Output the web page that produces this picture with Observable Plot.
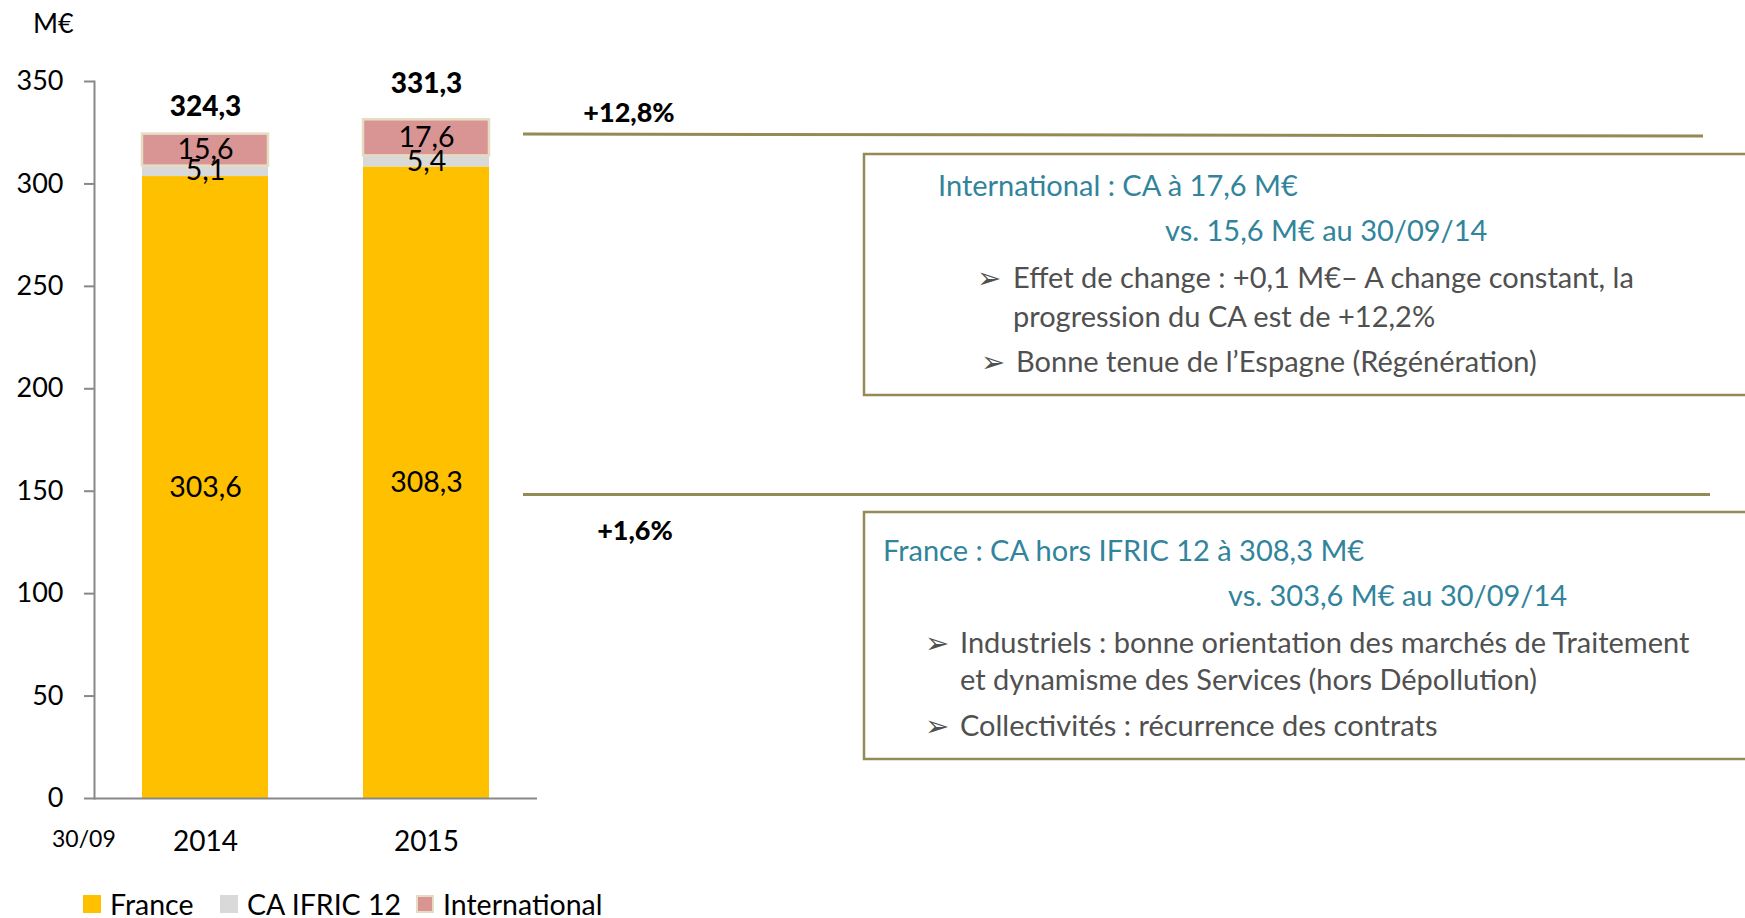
<!DOCTYPE html>
<html><head><meta charset="utf-8">
<script src="https://cdn.jsdelivr.net/npm/d3@7"></script>
<script src="https://cdn.jsdelivr.net/npm/@observablehq/plot@0.6"></script>
<style>
html,body{margin:0;padding:0;background:#fff;}
#wrap{position:relative;width:1745px;height:918px;overflow:hidden;background:#fff;font-family:Lato,"Open Sans",sans-serif;}
#chart{position:absolute;left:0;top:0;}
.t{position:absolute;white-space:nowrap;line-height:1;}
#overlay{position:absolute;left:0;top:0;}
.leg{position:absolute;display:flex;align-items:center;font-size:28.5px;color:#000;white-space:nowrap;}
.sw{display:inline-block;width:18px;height:18px;margin-right:9px;box-sizing:border-box;}
</style></head>
<body><div id="wrap"></div>
<script>
// ---- data ----
const years = ["2014", "2015"];
const seriesNames = ["France", "CA IFRIC 12", "International"];
const france = [303.6, 308.3];
const ifric = [5.1, 5.4];
const international = [15.6, 17.6];
const totals = [324.3, 331.3];
const yTicks = [0, 50, 100, 150, 200, 250, 300, 350];
const seriesColors = ["#ffc000", "#d9d9d9", "#d99594"];
const growthLabels = ["+12,8%", "+1,6%"];

const fmt = v => v.toFixed(1).replace(".", ",");
const valuesBySeries = [france, ifric, international];
const rows = [];
years.forEach((yr, i) => seriesNames.forEach((s, j) => rows.push({year: yr, series: s, value: valuesBySeries[j][i]})));
const totalRows = years.map((yr, i) => ({year: yr, total: totals[i]}));

const wrap = document.getElementById("wrap");

const chart = Plot.plot({
  width: 560, height: 860,
  marginLeft: 94, marginRight: 23, marginTop: 81, marginBottom: 62,
  style: {fontFamily: "Lato, 'Open Sans', sans-serif", fontSize: "27px", color: "#000", background: "transparent", overflow: "visible"},
  x: {domain: years, paddingInner: 0.43, paddingOuter: 0.215, label: null, axis: null},
  y: {domain: [0, 350], label: null, axis: null},
  color: {domain: seriesNames, range: seriesColors},
  marks: [
    Plot.barY(rows, {x: "year", y: "value", fill: "series"}),
    Plot.barY(rows, {x: "year", y: "value", fill: "none", stroke: "#e6dcc2", strokeWidth: 2.5,
      strokeOpacity: d => d.series === "International" ? 1 : 0}),
    Plot.text(rows, Plot.stackY({x: "year", y: "value", text: d => fmt(d.value), fill: "#000", fontSize: 28.5})),
    Plot.text(totalRows.filter(d => d.year === "2014"), {x: "year", y: "total", text: d => fmt(d.total), dy: -27, fontWeight: 900, fontSize: 28, fill: "#000"}),
    Plot.text(totalRows.filter(d => d.year === "2015"), {x: "year", y: "total", text: d => fmt(d.total), dy: -36, fontWeight: 900, fontSize: 28, fill: "#000"}),
    Plot.axisY({ticks: yTicks, tickSize: 10, tickPadding: 21, label: null, stroke: "#888", strokeWidth: 2, fill: "#000", fontSize: 27}),
    Plot.axisX({tickSize: 0, tickPadding: 33, label: null, fill: "#000", fontSize: 28}),
    Plot.frame({anchor: "left", stroke: "#888", strokeWidth: 2}),
    Plot.ruleY([0], {stroke: "#888", strokeWidth: 2})
  ]
});
chart.id = "chart";
wrap.appendChild(chart);

// annotation overlay (lines and boxes)
const ns = "http://www.w3.org/2000/svg";
const ov = document.createElementNS(ns, "svg");
ov.setAttribute("id", "overlay");
ov.setAttribute("width", 1745); ov.setAttribute("height", 918);
ov.innerHTML = `
  <line x1="523" y1="134" x2="1703" y2="136" stroke="#948a54" stroke-width="3"/>
  <line x1="523" y1="494.5" x2="1710" y2="494.5" stroke="#948a54" stroke-width="3"/>
  <rect x="864" y="154" width="1000" height="241" fill="none" stroke="#948a54" stroke-width="2.5"/>
  <rect x="864" y="512" width="1000" height="247" fill="none" stroke="#948a54" stroke-width="2.5"/>`;
wrap.appendChild(ov);

function addText(txt, x, cy, size, color, weight, anchor) {
  const d = document.createElement("div");
  d.className = "t";
  d.textContent = txt;
  d.style.fontSize = size + "px";
  d.style.color = color;
  d.style.fontWeight = weight || "normal";
  d.style.top = (cy - size / 2) + "px";
  if (anchor === "middle") { d.style.left = x + "px"; d.style.transform = "translateX(-50%)"; }
  else d.style.left = x + "px";
  wrap.appendChild(d);
  return d;
}
addText("M€", 33, 22, 27, "#000");
addText("30/09", 52, 838, 23, "#000");
addText(growthLabels[0], 629, 111, 27, "#000", 900, "middle");
addText(growthLabels[1], 635, 529, 27, "#000", 900, "middle");

const teal = "#31849b", grey = "#505050";
const fs = 29, bs = 29;
addText("International : CA à 17,6 M€", 938, 184, fs, teal);
addText("vs. 15,6 M€ au 30/09/14", 1165, 229, fs, teal);
addText("➢", 977, 276, bs, grey);
addText("Effet de change : +0,1 M€– A change constant, la", 1013, 276, fs, grey);
addText("progression du CA est de +12,2%", 1013, 315, fs, grey);
addText("➢", 981, 360, bs, grey);
addText("Bonne tenue de l’Espagne (Régénération)", 1016, 360, fs, grey);

addText("France : CA hors IFRIC 12 à 308,3 M€", 883, 549, fs, teal);
addText("vs. 303,6 M€ au 30/09/14", 1228, 594, fs, teal);
addText("➢", 925, 641, bs, grey);
addText("Industriels : bonne orientation des marchés de Traitement", 960, 641, fs, grey);
addText("et dynamisme des Services (hors Dépollution)", 960, 678, fs, grey);
addText("➢", 925, 724, bs, grey);
addText("Collectivités : récurrence des contrats", 960, 724, fs, grey);

// legend
const legX = [83, 220, 416];
seriesNames.forEach((s, i) => {
  const item = document.createElement("div");
  item.className = "leg";
  item.style.left = legX[i] + "px";
  item.style.top = (904 - 16) + "px";
  item.style.height = "32px";
  const sw = document.createElement("span");
  sw.className = "sw";
  sw.style.background = seriesColors[i];
  if (s === "International") sw.style.border = "2px solid #e6dcc2";
  item.appendChild(sw);
  item.appendChild(document.createTextNode(s));
  wrap.appendChild(item);
});
</script></body></html>
